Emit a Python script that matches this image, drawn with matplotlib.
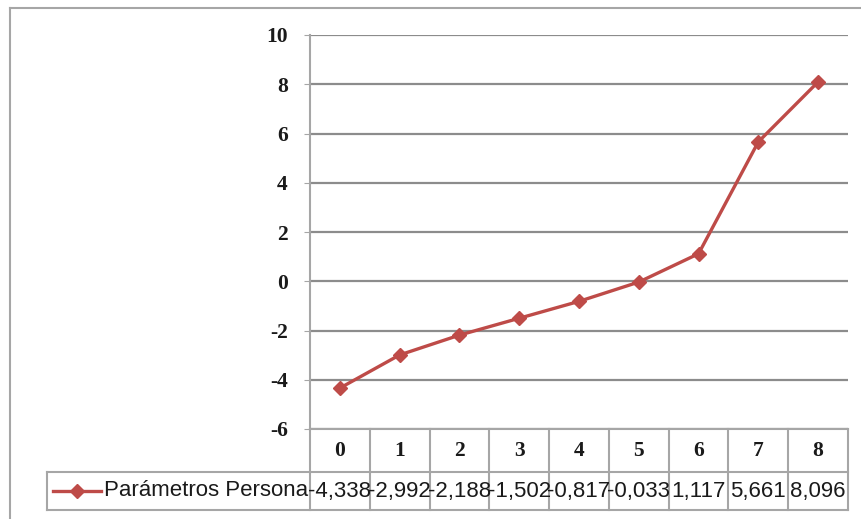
import matplotlib
matplotlib.use('Agg')
import matplotlib.pyplot as plt
import numpy as np

# datos del grafico
categorias = ['0', '1', '2', '3', '4', '5', '6', '7', '8']
valores = [-4.338, -2.992, -2.188, -1.502, -0.817, -0.033, 1.117, 5.661, 8.096]
serie = 'Parámetros Persona'
yticks = [-6, -4, -2, 0, 2, 4, 6, 8, 10]

rojo = '#BE4B48'
gris = '#A6A6A6'
texto = '#1A1A1A'
W, H = 862, 519

fig = plt.figure(figsize=(W / 100, H / 100), dpi=100)

# marco exterior (coordenadas en pixeles)
fondo = fig.add_axes([0, 0, 1, 1])
fondo.set_xlim(0, W)
fondo.set_ylim(H, 0)
fondo.axis('off')
fondo.plot([10, 10], [8, H], color=gris, lw=1.5)
fondo.plot([10, W], [8, 8], color=gris, lw=1.5)

x0, x1 = 310, 848
ytop, ybot = 35, 429
ax = fig.add_axes([x0 / W, 1 - ybot / H, (x1 - x0) / W, (ybot - ytop) / H])
x = np.arange(len(categorias))
ax.plot(x, valores, color=rojo, lw=2.4, marker='D', markersize=7.5,
        markerfacecolor=rojo, markeredgecolor=rojo, zorder=3)
ax.set_xlim(-0.5, len(categorias) - 0.5)
ax.set_ylim(-6, 10)
ax.set_yticks(yticks)
ax.set_yticklabels([str(v) for v in yticks], family='Liberation Serif',
                   fontweight='bold', fontsize=15.5, color=texto)
ax.set_xticks([])
ax.yaxis.grid(True, color='#8C8C8C', lw=1.6)
ax.set_axisbelow(True)
for s in ['top', 'right', 'bottom']:
    ax.spines[s].set_visible(False)
ax.spines['left'].set_color(gris)
ax.spines['left'].set_linewidth(1.5)
ax.tick_params(axis='y', length=4, color=gris, pad=12)

# tabla de datos debajo del grafico
ytab = 510
tax = fig.add_axes([x0 / W, 1 - ytab / H, (x1 - x0) / W, (ytab - ybot) / H])
tax.set_xlim(ax.get_xlim())
tax.set_ylim(0, ytab - ybot)
tax.axis('off')
hdr = 38  # limite entre fila de datos y fila de encabezado
xizq = -0.5 - (x0 - 47) / ((x1 - x0) / len(categorias))
lc = dict(color=gris, lw=1.5, clip_on=False)
tax.plot([-0.5, 8.5], [ytab - ybot, ytab - ybot], **lc)
tax.plot([xizq, 8.5], [hdr, hdr], **lc)
tax.plot([xizq, 8.5], [0, 0], **lc)
tax.plot([xizq, xizq], [0, hdr], **lc)
for i in range(len(categorias) + 1):
    tax.plot([i - 0.5, i - 0.5], [0, ytab - ybot], **lc)
for i, c in enumerate(categorias):
    tax.text(i, (hdr + ytab - ybot) / 2, c, ha='center', va='center',
             family='Liberation Serif', fontweight='bold', fontsize=15.5,
             color=texto)
    txt = ('%.3f' % valores[i]).replace('.', ',')
    tax.text(i, hdr / 2, txt, ha='center', va='center',
             family='Liberation Sans', fontsize=16, color=texto)

# leyenda dentro de la tabla
tax.plot([xizq + 0.1, xizq + 0.9], [hdr / 2, hdr / 2], color=rojo, lw=2.4,
         clip_on=False)
tax.plot([xizq + 0.5], [hdr / 2], marker='D', markersize=7.5, color=rojo,
         clip_on=False)
tax.text(-0.53, hdr / 2, serie, ha='right', va='center',
         family='Liberation Sans', fontsize=16, color=texto)

fig.savefig('out.png', dpi=100)
